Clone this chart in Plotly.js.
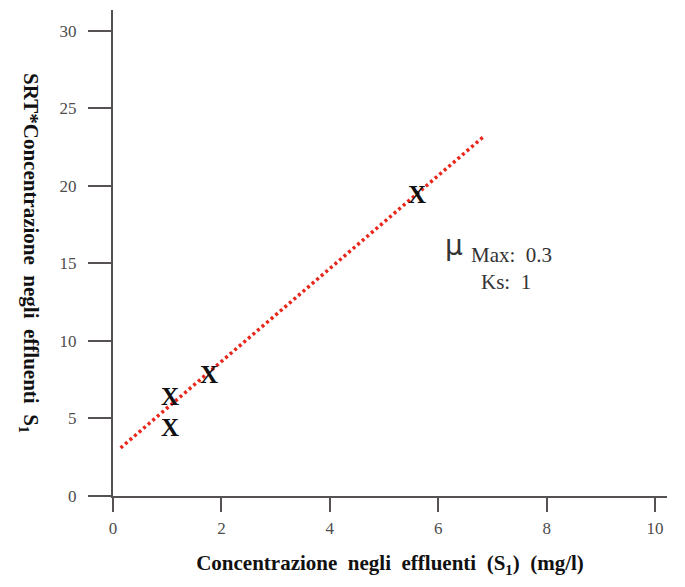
<!DOCTYPE html>
<html>
<head>
<meta charset="utf-8">
<script src="https://cdn.plot.ly/plotly-3.0.1.min.js"></script>
<style>html,body{margin:0;padding:0;background:#fff;}#chart{width:685px;height:587px;}</style>
</head>
<body>
<div id="chart"></div>
<script>
// Data
const pointsS1 = [1.05, 1.05, 1.77, 5.61];
const pointsSRTxS1 = [6.25, 4.3, 7.7, 19.3];
const fitS1 = [0.14, 6.83];
const fitSRTxS1 = [3.1, 23.16];
const xTickVals = [0, 2, 4, 6, 8, 10];
const yTickVals = [0, 5, 10, 15, 20, 25, 30];
const muMax = "0.3";
const ks = "1";
const xTitle = "Concentrazione\u00a0 negli\u00a0 effluenti\u00a0 (S<sub>1</sub>)\u00a0 (mg/l)";
const yTitle = "SRT*Concentrazione\u00a0 negli\u00a0 effluenti\u00a0 S<sub>1</sub>";

const axisColor = "#575252";
const tickFont = {family: "Liberation Serif, serif", size: 17, color: "#4d4d4d"};
const titleFont = {family: "Liberation Serif, serif", size: 21, color: "#111", weight: "bold"};

const traces = [
  {
    x: fitS1, y: fitSRTxS1, type: "scatter", mode: "lines",
    line: {color: "#e8271c", width: 3.5, dash: "3px,3px"},
    hoverinfo: "skip", showlegend: false
  },
  {
    x: pointsS1, y: pointsSRTxS1, type: "scatter", mode: "text",
    text: pointsS1.map(() => "X"), textposition: "middle center",
    textfont: {family: "Liberation Serif, serif", size: 25, color: "#111", weight: "bold"},
    showlegend: false
  }
];

const layout = {
  width: 685, height: 587,
  margin: {l: 113, r: 18, t: 10, b: 91},
  paper_bgcolor: "#fff", plot_bgcolor: "#fff",
  showlegend: false,
  xaxis: {
    range: [0, 10.22], tickvals: xTickVals, ticktext: xTickVals.map(String),
    showgrid: false, zeroline: false, showline: true, linecolor: axisColor, linewidth: 2,
    ticks: "outside", ticklen: 14, tickwidth: 2, tickcolor: axisColor,
    ticklabelstandoff: 2, tickfont: tickFont,
    title: {text: xTitle, font: titleFont, standoff: 18}
  },
  yaxis: {
    range: [0, 31.35], tickvals: yTickVals, ticktext: yTickVals.map(String),
    showgrid: false, zeroline: false, showline: true, linecolor: axisColor, linewidth: 2,
    ticks: "outside", ticklen: 23, tickwidth: 2, tickcolor: axisColor,
    ticklabelstandoff: 8, tickfont: tickFont
  },
  annotations: [
    {xref: "paper", yref: "paper", x: -0.15, y: 0.5, text: yTitle, showarrow: false,
     textangle: 90, xanchor: "center", yanchor: "middle", font: titleFont},
    {xref: "paper", yref: "paper", x: 0.616, y: 0.515, text: "μ", showarrow: false,
     xanchor: "center", yanchor: "middle",
     font: {family: "DejaVu Sans, sans-serif", size: 28, color: "#333"}},
    {xref: "paper", yref: "paper", x: 0.642, y: 0.496, text: "Max:  " + muMax, showarrow: false,
     xanchor: "left", yanchor: "middle",
     font: {family: "Liberation Serif, serif", size: 21, color: "#333"}},
    {xref: "paper", yref: "paper", x: 0.66, y: 0.44, text: "Ks:  " + ks, showarrow: false,
     xanchor: "left", yanchor: "middle",
     font: {family: "Liberation Serif, serif", size: 21, color: "#333"}}
  ]
};

Plotly.newPlot("chart", traces, layout, {displayModeBar: false, staticPlot: true});
</script>
</body>
</html>
